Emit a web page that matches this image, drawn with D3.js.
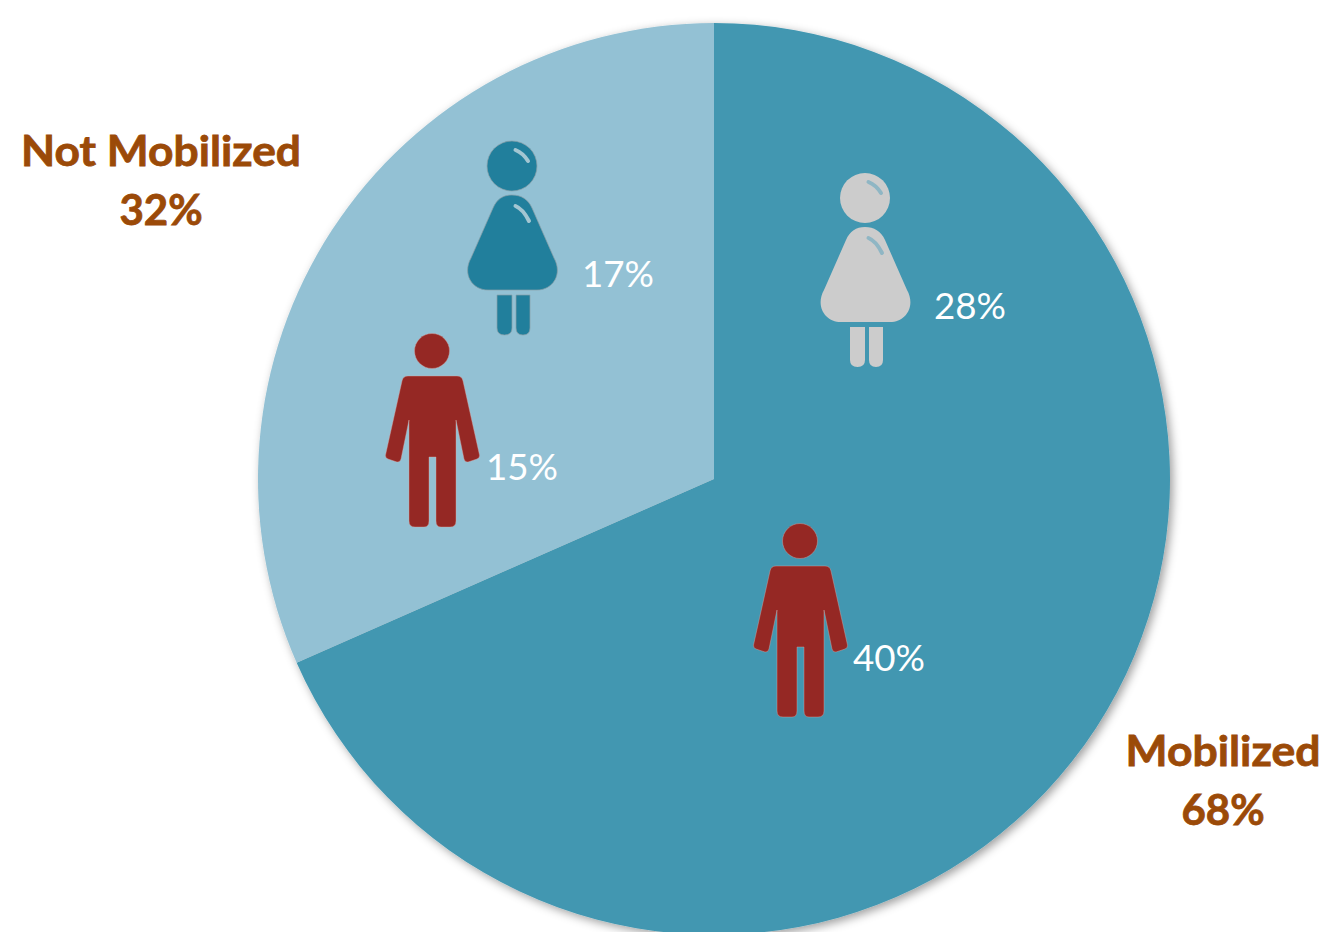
<!DOCTYPE html>
<html><head><meta charset="utf-8">
<script src="https://cdn.jsdelivr.net/npm/d3@7"></script>
<style>html,body{margin:0;padding:0;background:#fff;overflow:hidden}svg{display:block}text{font-family:Lato,sans-serif}</style>
</head><body><script>
const categories = ["Mobilized", "Not Mobilized"];
const shares = [68.4, 31.6];
const shareLabels = ["68%", "32%"];
const groupSex = ["woman", "man", "woman", "man"];
const groupLabels = ["28%", "40%", "17%", "15%"];

const W = 1330, H = 932, cx = 714, cy = 479, R = 456;
const sliceColors = ["#4297b1", "#93c1d4"];
const iconColors = ["#cccccc", "#952824", "#217f9c", "#952824"];
const glossColors = ["#8fb6c4", null, "#a3c6d2", null];
const iconOrigin = [[865,198],[800,541],[512,166],[432,351]];
const labelPos = [[970,319],[889,671],[618,287],[522,480]];
const catPos = [[1223,766,825,195],[161,166,225,280]];

const svg = d3.select("body").append("svg").attr("width",W).attr("height",H);
const f = svg.append("defs").append("filter").attr("id","sh")
  .attr("x","-5%").attr("y","-5%").attr("width","110%").attr("height","110%");
f.append("feDropShadow").attr("dx",3).attr("dy",3).attr("stdDeviation",5)
  .attr("flood-color","#000").attr("flood-opacity",0.38);

const pie = d3.pie().sort(null);
const arc = d3.arc().innerRadius(0).outerRadius(R);
const g = svg.append("g").attr("transform",`translate(${cx},${cy})`).attr("filter","url(#sh)");
g.selectAll("path").data(pie(shares)).join("path")
  .attr("d",arc).attr("fill",(d,i)=>sliceColors[i]);

const manPath = "M-24,25 Q-29,25 -30,30 L-46.5,104 Q-47,107 -44,108 L-35,111 Q-32,111.5 -31,108 L-23,69 L-23,170 Q-23,176 -17,176 L-8,176 Q-3,176 -3,170 L-3,106 L4,106 L4,170 Q4,176 9,176 L18,176 Q24,176 24,170 L24,69 L32,108 Q33,111.5 36,111 L45,108 Q48,107 47.5,104 L31,30 Q30,25 25,25 Z";
const dressPath = "M0,29 C-9,29 -15,33 -19,42 L-41,92 C-50,108 -40,124 -24,124 L25,124 C41,124 51,108 42,92 L20,42 C16,33 9,29 0,29 Z";
const legPath = "M-15,129 L0,129 L0,162 Q0,169 -7.5,169 Q-15,169 -15,162 Z M4,129 L18,129 L18,162 Q18,169 11,169 Q4,169 4,162 Z";
const glossHead = "M3.5,-16 Q11,-13 16,-5";
const glossBody = "M3.5,40 Q11,43 17,55";

groupSex.forEach((sex,i)=>{
  const ic = svg.append("g").attr("transform",`translate(${iconOrigin[i][0]},${iconOrigin[i][1]})`)
    .attr("fill",iconColors[i]);
  if(sex==="man"){
    ic.attr("stroke","#d8a9a6").attr("stroke-width",0.6).attr("stroke-opacity",0.7);
    ic.append("circle").attr("r",17.5);
    ic.append("path").attr("d",manPath);
  } else {
    ic.attr("stroke","#8a9fa8").attr("stroke-width",i===0?0:1).attr("stroke-opacity",0.7);
    ic.append("circle").attr("r",25);
    ic.append("path").attr("d",dressPath);
    ic.append("path").attr("d",legPath);
    [glossHead,glossBody].forEach(d=>ic.append("path").attr("d",d).attr("fill","none")
      .attr("stroke",glossColors[i]).attr("stroke-opacity",1).attr("stroke-width",4).attr("stroke-linecap","round"));
  }
  svg.append("text").attr("x",labelPos[i][0]).attr("y",labelPos[i][1]).attr("text-anchor","middle")
    .attr("fill","#fff").attr("font-size",37).attr("textLength",72).attr("lengthAdjust","spacingAndGlyphs").text(groupLabels[i]);
});

categories.forEach((c,i)=>{
  const p = catPos[i];
  const t = svg.append("g").attr("fill","#9b4a08").attr("stroke","#9b4a08").attr("stroke-width",0.8)
    .attr("font-weight",700).attr("font-size",42).attr("text-anchor","middle");
  t.append("text").attr("x",p[0]).attr("y",p[1]).attr("textLength",p[3]).attr("lengthAdjust","spacingAndGlyphs").text(c);
  t.append("text").attr("x",p[0]).attr("y",p[2]).text(shareLabels[i]);
});
</script></body></html>
